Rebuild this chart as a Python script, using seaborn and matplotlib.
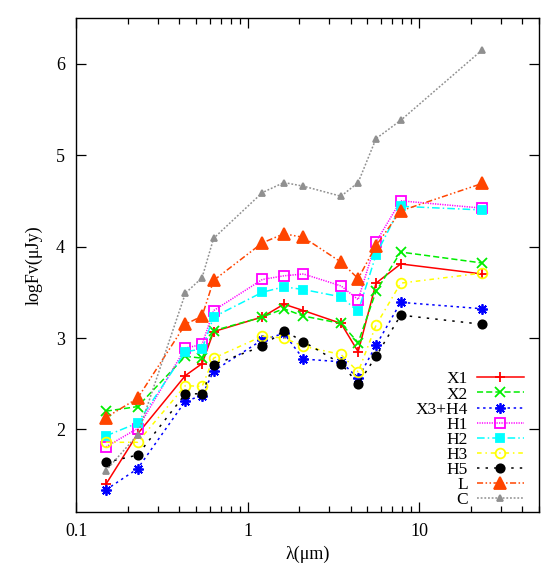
import seaborn as sns
import matplotlib.pyplot as plt
from matplotlib.ticker import LogLocator, FixedLocator, NullFormatter
import pandas as pd

# band wavelengths (micron)
wavelength = [0.149, 0.228, 0.434, 0.543, 0.634, 1.22, 1.63, 2.12, 3.51, 4.42, 5.62, 7.83, 23.4]

x1 = [1.40, 1.95, 2.59, 2.72, 3.07, 3.23, 3.37, 3.30, 3.16, 2.85, 3.60, 3.81, 3.70]
x2 = [2.20, 2.25, 2.80, 2.78, 3.08, 3.23, 3.32, 3.24, 3.16, 2.95, 3.51, 3.94, 3.82]
x3h4 = [1.34, 1.57, 2.31, 2.37, 2.64, 2.98, 3.05, 2.77, 2.74, 2.56, 2.92, 3.39, 3.32]
h1 = [1.81, 2.01, 2.89, 2.93, 3.30, 3.64, 3.68, 3.70, 3.57, 3.42, 4.05, 4.50, 4.42]
h2 = [1.93, 2.07, 2.85, 2.88, 3.23, 3.50, 3.56, 3.53, 3.45, 3.29, 3.91, 4.44, 4.40]
h3 = [1.86, 1.86, 2.48, 2.47, 2.78, 3.02, 3.00, 2.91, 2.82, 2.63, 3.14, 3.60, 3.71]
h5 = [1.64, 1.72, 2.39, 2.39, 2.71, 2.91, 3.08, 2.96, 2.72, 2.50, 2.80, 3.25, 3.15]
l_reg = [2.13, 2.34, 3.15, 3.24, 3.63, 4.04, 4.14, 4.10, 3.83, 3.65, 4.01, 4.39, 4.69]
c_reg = [1.55, 1.94, 3.49, 3.66, 4.09, 4.59, 4.70, 4.66, 4.55, 4.70, 5.18, 5.38, 6.15]

labels = ["X1", "X2", "X3+H4", "H1", "H2", "H3", "H5", "L", "C"]
series = [x1, x2, x3h4, h1, h2, h3, h5, l_reg, c_reg]

styles = {
    "X1": dict(color="#ff0000", ls="-", marker="+", ms=7.5, mfc="#ff0000"),
    "X2": dict(color="#00ee00", ls=(0, (4, 2)), marker="x", ms=6.5, mfc="#00ee00"),
    "X3+H4": dict(color="#0000ff", ls=(0, (1.6, 2.4)), marker=(8, 2, 0), ms=7.5, mfc="#0000ff"),
    "H1": dict(color="#ff00ff", ls=(0, (0.8, 0.8)), marker="s", ms=7, mfc="none"),
    "H2": dict(color="#00ffff", ls=(0, (5, 2, 1, 2)), marker="s", ms=6, mfc="#00ffff"),
    "H3": dict(color="#ffff00", ls=(0, (3, 2.5, 1, 2.5)), marker="o", ms=7, mfc="none"),
    "H5": dict(color="#000000", ls=(0, (1.6, 4)), marker="o", ms=6, mfc="#000000"),
    "L": dict(color="#ff4500", ls=(0, (4, 1.6, 1, 1.6, 1, 1.6)), marker="^", ms=8, mfc="#ff4500"),
    "C": dict(color="#909090", ls=(0, (1.2, 1.2)), marker="^", ms=4.5, mfc="#909090"),
}

plt.rcParams["font.family"] = ["Liberation Serif", "DejaVu Serif"]

fig = plt.figure(figsize=(5.6, 5.77), dpi=100)
ax = fig.add_axes([0.136, 0.113, 0.826, 0.856])

for name, vals in zip(labels, series):
    st = styles[name]
    df = pd.DataFrame({"wl": wavelength, "flux": vals})
    sns.lineplot(data=df, x="wl", y="flux", ax=ax, color=st["color"], linestyle=st["ls"],
                 linewidth=1.1, marker=st["marker"], markersize=st["ms"],
                 markerfacecolor=st["mfc"], markeredgecolor=st["color"],
                 markeredgewidth=1.3, label=name)

ax.set_xscale("log")
ax.set_xlim(0.1, 50)
ax.set_ylim(1.1, 6.5)
ax.xaxis.set_major_locator(FixedLocator([0.1, 1, 10]))
ax.set_xticklabels(["0.1", "1", "10"])
ax.xaxis.set_minor_locator(LogLocator(base=10, subs=range(2, 10)))
ax.xaxis.set_minor_formatter(NullFormatter())
ax.set_yticks([2, 3, 4, 5, 6])
ax.tick_params(which="both", direction="in", top=True, right=True, labelsize=13, pad=8)
ax.tick_params(which="major", length=7, width=0.9)
ax.tick_params(which="minor", length=4, width=0.9)
for sp in ax.spines.values():
    sp.set_linewidth(1.0)

ax.set_xlabel("λ(μm)", fontsize=13, labelpad=4)
ax.set_ylabel("logFv(μJy)", fontsize=13, labelpad=10)

ax.legend(loc="lower right", frameon=False, markerfirst=False, fontsize=12.5,
          handlelength=2.7, handletextpad=0.5, labelspacing=-0.06,
          borderaxespad=0.2, bbox_to_anchor=(0.99, -0.014))

fig.savefig("out.png", dpi=100)
